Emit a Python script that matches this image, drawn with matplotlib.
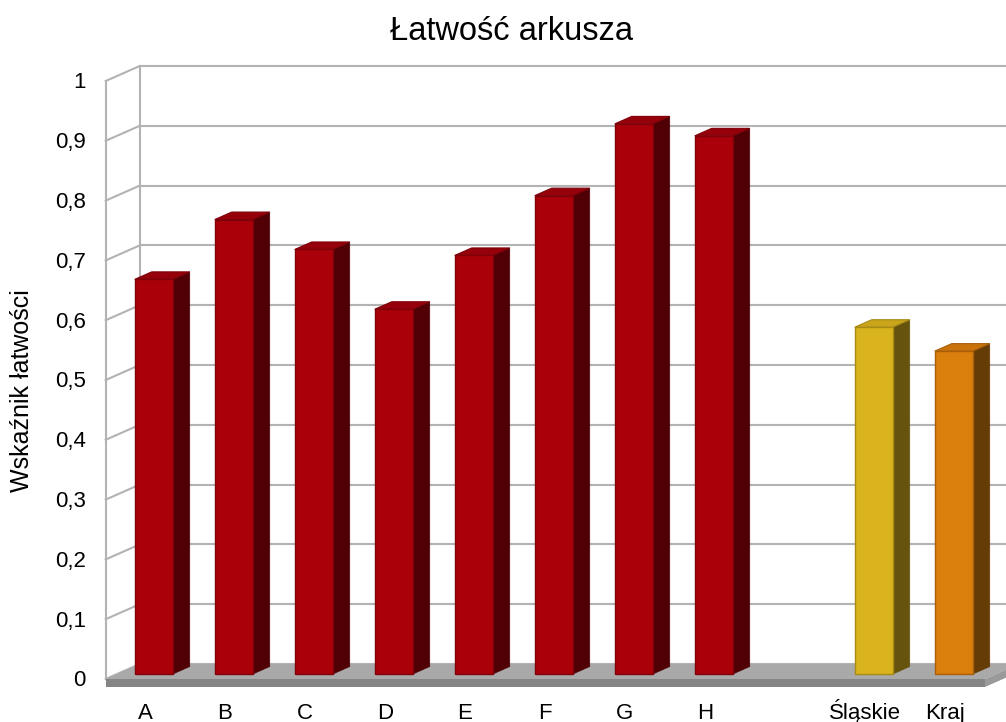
import numpy as np
import matplotlib.pyplot as plt
from matplotlib.patches import Polygon

plt.rcParams['font.family'] = ['Liberation Sans', 'DejaVu Sans']

categories = ['A', 'B', 'C', 'D', 'E', 'F', 'G', 'H', 'Śląskie', 'Kraj']
values = [0.66, 0.76, 0.71, 0.61, 0.70, 0.80, 0.92, 0.90, 0.58, 0.54]
y_ticks = np.round(np.arange(0, 1.01, 0.1), 1)
y_labels = [f'{t:g}'.replace('.', ',') for t in y_ticks]

# face colours: front, side, top, edge
red = ('#aa000a', '#500005', '#96000a', '#7e0008')
yellow = ('#dab41e', '#66540e', '#c9a51b', '#a88a14')
orange = ('#da7e0c', '#663c06', '#c9720a', '#a85f08')
styles = [red] * 8 + [yellow, orange]

# oblique "3d": full depth offset in data units
DX, DY = -0.425, -0.0251
F_FRONT, F_BACK = 0.67, 0.17
W = 0.475
XL, XR = -0.46, 10.53
T = 0.0134
GRID = '#b3b3b3'


def depth(x, v, f):
    return (x + DX * f, v + DY * f)


fig = plt.figure(figsize=(10.06, 7.22), dpi=100)
ax = fig.add_axes([0, 0, 1, 1])
ax.set_xlim(-176.5 / 80, (1006 - 176.5) / 80)
ax.set_ylim((664 - 722) / 598, 664 / 598)
ax.axis('off')

# back wall grid and left wall
ax.hlines(y_ticks, XL, 12, color=GRID, lw=1.5, zorder=1)
ax.vlines(XL, 0, 1, color=GRID, lw=1.5, zorder=1)
p0, p1 = depth(XL, 0, 1), depth(XL, 1, 1)
ax.plot([p0[0], p1[0]], [p0[1], p1[1]], color=GRID, lw=1.5, zorder=1)
for t in y_ticks:
    a, b = depth(XL, t, 0), depth(XL, t, 1)
    ax.plot([a[0], b[0]], [a[1], b[1]], color=GRID, lw=1.5, zorder=1)

# floor slab
top = [depth(XL, 0, 0), depth(XR, 0, 0), depth(XR, 0, 1), depth(XL, 0, 1)]
front = [depth(XL, 0, 1), depth(XR, 0, 1), depth(XR, -T, 1), depth(XL, -T, 1)]
side = [depth(XR, 0, 1), depth(XR, 0, 0), depth(XR, -T, 0), depth(XR, -T, 1)]
ax.add_patch(Polygon(top, closed=True, fc='#a9a9a9', ec='none', zorder=2))
ax.add_patch(Polygon(front, closed=True, fc='#858585', ec='none', zorder=2))
ax.add_patch(Polygon(side, closed=True, fc='#9a9a9a', ec='none', zorder=2))

# bars
n = len(categories)
pos = np.arange(n) + (np.arange(n) >= 8)
ax.bar(pos + DX * F_FRONT, values, width=W, bottom=DY * F_FRONT,
       color=[s[0] for s in styles], edgecolor=[s[3] for s in styles],
       linewidth=1.0, zorder=5)
for x, v, s in zip(pos, values, styles):
    xl, xr = x - W / 2, x + W / 2
    side = [depth(xr, 0, F_FRONT), depth(xr, v, F_FRONT),
            depth(xr, v, F_BACK), depth(xr, 0, F_BACK)]
    topf = [depth(xl, v, F_FRONT), depth(xr, v, F_FRONT),
            depth(xr, v, F_BACK), depth(xl, v, F_BACK)]
    ax.add_patch(Polygon(side, closed=True, fc=s[1], ec=s[1], lw=0.5, zorder=4))
    ax.add_patch(Polygon(topf, closed=True, fc=s[2], ec=s[3], lw=0.8, zorder=4))

# tick labels
for t, lab in zip(y_ticks, y_labels):
    ax.text(depth(XL, t, 1)[0] - 0.25, t + DY - 0.0125, lab,
            ha='right', va='baseline', fontsize=16)
for x, cat in zip(pos, categories):
    ax.text(x + DX + 0.03, -0.092, cat, ha='center', va='baseline', fontsize=16)

fig.text(512 / 1006, 1 - 40 / 722, 'Łatwość arkusza', ha='center',
         va='baseline', fontsize=23.5)
fig.text(22 / 1006, 1 - 391 / 722, 'Wskaźnik łatwości', ha='center',
         va='center', rotation=90, fontsize=18)

fig.savefig('out.png', dpi=100, facecolor='white')
